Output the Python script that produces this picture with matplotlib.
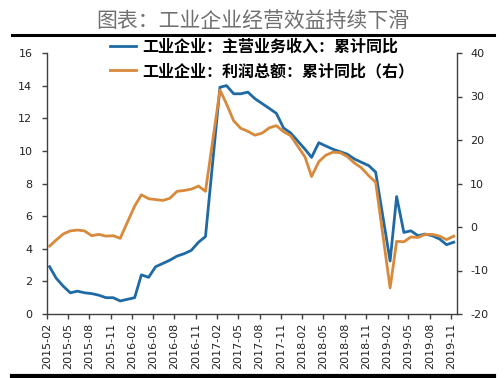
import matplotlib
matplotlib.use('Agg')
import matplotlib.pyplot as plt
import pandas as pd
from matplotlib.lines import Line2D
from matplotlib.font_manager import FontProperties

plt.rcParams['font.family'] = ['DejaVu Sans']
plt.rcParams['axes.unicode_minus'] = False

# 月份（1月无单独数据，1-2月合并公布）
months = [f'{y}-{m:02d}' for y in range(2015, 2020) for m in range(2, 13)][:-1]

# 工业企业:主营业务收入:累计同比 (%)
revenue = [2.9, 2.2, 1.7, 1.3, 1.4, 1.3, 1.25, 1.15, 1.0, 1.0, 0.8,
           1.0, 2.4, 2.25, 2.9, 3.1, 3.3, 3.55, 3.7, 3.9, 4.4, 4.75,
           13.9, 14.0, 13.5, 13.5, 13.6, 13.2, 12.9, 12.6, 12.3, 11.4, 11.1,
           10.1, 9.6, 10.5, 10.3, 10.1, 9.95, 9.8, 9.5, 9.3, 9.1, 8.7,
           3.25, 7.2, 5.0, 5.1, 4.8, 4.9, 4.8, 4.6, 4.25, 4.4]

# 工业企业:利润总额:累计同比 (%)，右轴
profit = [-4.4, -3.0, -1.6, -0.9, -0.7, -0.9, -2.0, -1.7, -2.1, -2.0, -2.6,
          4.8, 7.4, 6.5, 6.3, 6.1, 6.6, 8.2, 8.4, 8.7, 9.4, 8.2,
          31.5, 28.3, 24.4, 22.7, 22.0, 21.1, 21.6, 22.8, 23.3, 21.9, 21.0,
          16.1, 11.6, 15.0, 16.5, 17.2, 17.1, 16.2, 14.7, 13.6, 11.8, 10.3,
          -14.0, -3.3, -3.4, -2.3, -2.4, -1.7, -1.7, -2.1, -2.9, -2.1]

labels = ['工业企业：主营业务收入：累计同比', '工业企业：利润总额：累计同比（右）']
blue = '#1f6aa5'
orange = '#d8893b'
axis_c = '#404040'

dates = pd.to_datetime(months) + pd.Timedelta(days=11)
ticks = pd.date_range('2015-02-01', '2019-11-01', freq='3MS')

fig = plt.figure(figsize=(5.04, 3.78), dpi=100)
ax = fig.add_axes([47/504, 1-314/378, 410/504, 261/378])
l1, = ax.plot(dates, revenue, color=blue, lw=2)
ax2 = ax.twinx()
l2, = ax2.plot(dates, profit, color=orange, lw=2)

ax.set_ylim(0, 16)
ax.set_yticks(range(0, 17, 2))
ax2.set_ylim(-20, 40)
ax2.set_yticks(range(-20, 41, 10))
ax.set_xticks(ticks)
ax.set_xticklabels([t.strftime('%Y-%m') for t in ticks], rotation=90)
ax.set_xlim(pd.Timestamp('2015-02-01'), pd.Timestamp('2019-11-26'))

for a in (ax, ax2):
    a.spines['top'].set_visible(False)
    for s in a.spines.values():
        s.set_color(axis_c)
        s.set_linewidth(1)
    a.tick_params(direction='out', length=3.5, width=1, color=axis_c,
                  labelsize=8, labelcolor='#222222')
ax.spines['right'].set_visible(False)
ax2.spines['left'].set_visible(False)
ax2.spines['bottom'].set_visible(False)
ax.tick_params(axis='y', pad=7)
ax2.tick_params(axis='y', pad=6)
ax.tick_params(axis='x', pad=3)

leg = ax2.legend([l1, l2], labels, loc='upper left',
                 bbox_to_anchor=(110/504, 1-39/378), bbox_transform=fig.transFigure,
                 frameon=False, borderpad=0, borderaxespad=0,
                 prop=FontProperties(family='Noto Sans CJK SC', weight='bold', size=11.5),
                 handlelength=1.6, handletextpad=0.4, labelspacing=0.5)

fig.text(0.501, 1-21/378, '图表：工业企业经营效益持续下滑', ha='center', va='center',
         fontsize=15, color='#707070', family=['Noto Sans CJK SC'])
fig.add_artist(Line2D([12/504, 494/504], [1-35/378]*2, color='black', lw=2.2,
                      transform=fig.transFigure))
fig.add_artist(Line2D([12/504, 494/504], [1-376/378]*2, color='black', lw=3,
                      transform=fig.transFigure))

fig.savefig('out.png', dpi=100)
